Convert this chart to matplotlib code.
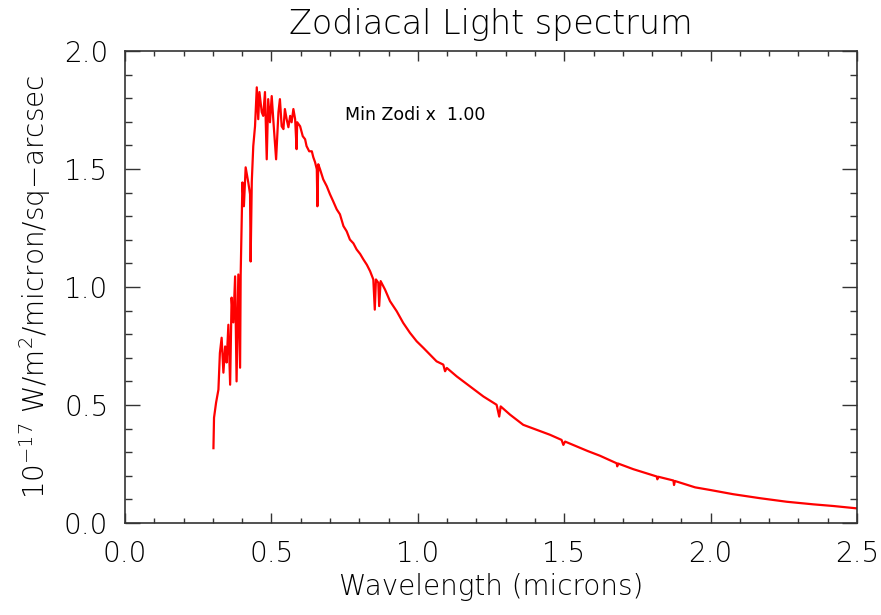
import numpy as np
import matplotlib
matplotlib.use("Agg")
import matplotlib.pyplot as plt
from matplotlib.ticker import MultipleLocator

# values (microns, 1e-17 W/m2/micron/sq-arcsec)
wave = [0.302, 0.304, 0.311, 0.319, 0.324, 0.330, 0.336, 0.342, 0.347, 0.353,
        0.359, 0.364, 0.370, 0.376, 0.381, 0.387, 0.393, 0.395, 0.401, 0.406,
        0.412, 0.421, 0.427, 0.429, 0.433, 0.438, 0.444, 0.450, 0.455, 0.459,
        0.467, 0.472, 0.478, 0.484, 0.489, 0.495, 0.501, 0.507, 0.516, 0.524,
        0.529, 0.535, 0.541, 0.546, 0.552, 0.558, 0.564, 0.569, 0.575, 0.581,
        0.586, 0.588, 0.598, 0.607, 0.615, 0.620, 0.629, 0.638, 0.643, 0.649,
        0.655, 0.657, 0.660, 0.666, 0.677, 0.689, 0.700, 0.711, 0.723, 0.734,
        0.746, 0.757, 0.768, 0.780, 0.791, 0.803, 0.814, 0.826, 0.837, 0.848,
        0.853, 0.857, 0.865, 0.868, 0.873, 0.888, 0.905, 0.928, 0.950, 0.973,
        0.996, 1.019, 1.042, 1.064, 1.087, 1.093, 1.099, 1.133, 1.178, 1.224,
        1.269, 1.278, 1.283, 1.315, 1.360, 1.406, 1.451, 1.491, 1.497, 1.503,
        1.543, 1.580, 1.622, 1.679, 1.681, 1.684, 1.736, 1.816, 1.818, 1.821,
        1.873, 1.875, 1.878, 1.947, 1.998, 2.077, 2.169, 2.260, 2.351, 2.419,
        2.499]
flux = [0.317, 0.446, 0.510, 0.565, 0.720, 0.785, 0.637, 0.748, 0.680, 0.840,
        0.586, 0.955, 0.850, 1.045, 0.600, 1.053, 0.658, 1.053, 1.443, 1.342,
        1.507, 1.443, 1.393, 1.108, 1.448, 1.597, 1.681, 1.846, 1.711, 1.826,
        1.741, 1.725, 1.826, 1.541, 1.796, 1.698, 1.809, 1.698, 1.541, 1.741,
        1.796, 1.681, 1.669, 1.754, 1.711, 1.677, 1.725, 1.698, 1.754, 1.711,
        1.584, 1.698, 1.681, 1.639, 1.626, 1.597, 1.575, 1.575, 1.550, 1.529,
        1.499, 1.342, 1.520, 1.499, 1.456, 1.427, 1.393, 1.363, 1.329, 1.308,
        1.258, 1.236, 1.201, 1.185, 1.159, 1.140, 1.117, 1.094, 1.067, 1.032,
        0.904, 1.032, 1.018, 0.919, 1.025, 0.989, 0.940, 0.897, 0.848, 0.806,
        0.770, 0.742, 0.713, 0.685, 0.671, 0.643, 0.657, 0.621, 0.579, 0.536,
        0.501, 0.451, 0.494, 0.459, 0.416, 0.395, 0.374, 0.352, 0.331, 0.345,
        0.324, 0.305, 0.285, 0.253, 0.240, 0.252, 0.228, 0.197, 0.185, 0.196,
        0.180, 0.161, 0.178, 0.151, 0.140, 0.122, 0.105, 0.090, 0.079, 0.072,
        0.062]

zodi_scale = 1.00

plt.rcParams['font.family'] = ['DejaVu Sans']
plt.rcParams['font.weight'] = 'light'
plt.rcParams['mathtext.fontset'] = 'dejavusans'

fig = plt.figure(figsize=(8.81, 6.15), dpi=100)
ax = fig.add_axes([0.1419, 0.1496, 0.8309, 0.7675])

ax.plot(wave, flux, color='red', lw=1.6)

ax.set_xlim(0, 2.5)
ax.set_ylim(0, 2.0)
ax.xaxis.set_major_locator(MultipleLocator(0.5))
ax.xaxis.set_minor_locator(MultipleLocator(0.1))
ax.yaxis.set_major_locator(MultipleLocator(0.5))
ax.yaxis.set_minor_locator(MultipleLocator(0.1))
ax.xaxis.set_major_formatter(plt.FormatStrFormatter('%.1f'))
ax.yaxis.set_major_formatter(plt.FormatStrFormatter('%.1f'))

ax.tick_params(axis='both', which='both', direction='in', top=True, right=True,
               labelsize=20, color='#333333', width=1)
ax.tick_params(axis='x', which='major', length=7.5, pad=12)
ax.tick_params(axis='x', which='minor', length=3.8)
ax.tick_params(axis='y', which='major', length=10.5, pad=12)
ax.tick_params(axis='y', which='minor', length=5.3)
for s in ax.spines.values():
    s.set_linewidth(1.2)
    s.set_color('#333333')

ax.set_title('Zodiacal Light spectrum', fontsize=24, pad=12, fontweight='light')
ax.set_xlabel('Wavelength (microns)', fontsize=20, labelpad=4, fontweight='light')
ax.set_ylabel(r'10$^{-17}$ W/m$^2$/micron/sq$-$arcsec', fontsize=20, labelpad=8,
              fontweight='light')

ax.text(0.75, 1.73, 'Min Zodi x  %.2f' % zodi_scale, fontsize=12.5, va='center',
        fontweight='normal')

fig.savefig('out.png', dpi=100)
